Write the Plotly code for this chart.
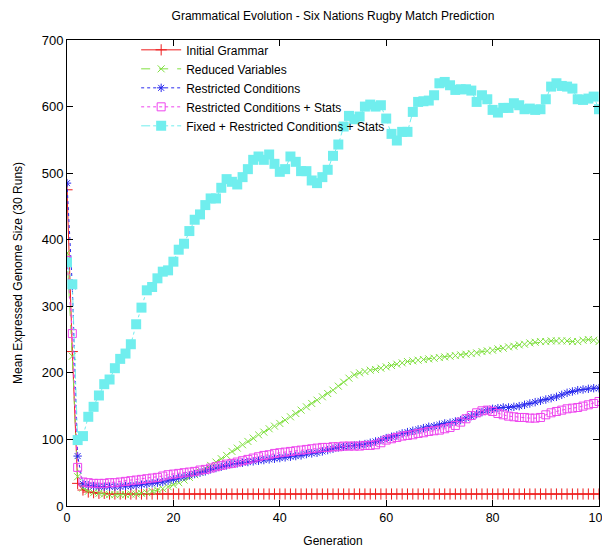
import plotly.graph_objects as go

generations = list(range(0, 101))

initial_grammar = [475, 232, 34, 24, 21, 20, 19, 19, 18, 18,
                   18, 18, 18, 18, 18, 18, 18, 18, 18, 18,
                   18, 18, 18, 18, 18, 18, 18, 18, 18, 18,
                   18, 18, 18, 18, 18, 18, 18, 18, 18, 18,
                   18, 18, 18, 18, 18, 18, 18, 18, 18, 18,
                   18, 18, 18, 18, 18, 18, 18, 18, 18, 18,
                   18, 18, 18, 18, 18, 18, 18, 18, 18, 18,
                   18, 18, 18, 18, 18, 18, 18, 18, 18, 18,
                   18, 18, 18, 18, 18, 18, 18, 18, 18, 18,
                   18, 18, 18, 18, 18, 18, 18, 18, 18, 18, 18]

reduced_variables = [380, 225, 44, 27, 22, 20, 19, 18, 17, 17,
                     17, 17, 18, 18, 19, 20, 22, 24, 26, 29,
                     32, 35, 39, 43, 47, 51, 56, 61, 66, 71,
                     76, 82, 87, 92, 97, 102, 107, 111, 116, 120,
                     124, 129, 134, 139, 144, 149, 154, 159, 164, 169,
                     174, 180, 186, 192, 197, 200, 202, 204, 205, 207,
                     209, 211, 213, 215, 217, 218, 219, 220, 221, 222,
                     223, 224, 225, 226, 227, 228, 229, 230, 232, 233,
                     234, 236, 237, 239, 240, 242, 243, 245, 246, 247,
                     247, 248, 248, 248, 248, 247, 247, 249, 250, 249, 247]

restricted_conditions = [485, 330, 75, 33, 31, 30, 29, 29, 29, 29,
                         29, 30, 30, 31, 32, 33, 34, 35, 36, 38,
                         40, 42, 44, 46, 48, 50, 52, 55, 57, 59,
                         61, 63, 64, 65, 66, 67, 68, 69, 70, 71,
                         72, 73, 74, 75, 76, 78, 79, 80, 82, 84,
                         86, 88, 89, 90, 91, 92, 93, 95, 97, 99,
                         102, 104, 106, 109, 111, 113, 115, 117, 119, 120,
                         122, 124, 125, 127, 129, 132, 135, 138, 141, 144,
                         146, 147, 148, 148, 149, 150, 152, 154, 156, 158,
                         160, 162, 164, 167, 170, 172, 174, 175, 176, 177, 177]

restricted_stats = [369, 259, 58, 36, 35, 34, 34, 34, 35, 35,
                    36, 37, 38, 39, 40, 41, 42, 43, 45, 47,
                    48, 49, 50, 51, 52, 54, 55, 57, 59, 61,
                    63, 64, 66, 68, 70, 72, 74, 76, 77, 79,
                    80, 81, 82, 83, 84, 85, 86, 87, 88, 88,
                    89, 89, 90, 90, 90, 90, 91, 91, 92, 95,
                    99, 101, 103, 105, 106, 107, 109, 110, 112, 113,
                    114, 116, 118, 121, 126, 131, 136, 140, 143, 144,
                    142, 139, 137, 135, 134, 133, 133, 132, 132, 133,
                    137, 140, 142, 144, 146, 147, 148, 150, 152, 154, 157]

fixed_restricted_stats = [366, 333, 99, 105, 134, 149, 166, 183, 190, 207,
                          221, 229, 243, 273, 298, 324, 329, 342, 352, 354,
                          367, 385, 394, 413, 430, 438, 452, 462, 462, 478,
                          491, 487, 483, 494, 506, 520, 525, 520, 528, 514,
                          502, 506, 525, 517, 503, 503, 489, 485, 494, 505,
                          526, 543, 570, 586, 581, 585, 600, 603, 600, 602,
                          582, 559, 549, 562, 562, 592, 607, 608, 609, 617,
                          635, 637, 632, 625, 626, 626, 624, 607, 617, 611,
                          595, 591, 598, 598, 605, 602, 596, 597, 595, 596,
                          611, 630, 635, 631, 630, 627, 611, 610, 612, 615, 596]

series_names = ["Initial Grammar", "Reduced Variables", "Restricted Conditions",
                "Restricted Conditions + Stats", "Fixed + Restricted Conditions + Stats"]
x_ticks = [0, 20, 40, 60, 80, 100]
y_ticks = [0, 100, 200, 300, 400, 500, 600, 700]

FONT = "Liberation Sans, Arial, sans-serif"

styles = [
    dict(color="#ee1c1c", dash="solid", symbol="cross-thin-open", size=8),
    dict(color="#80e040", dash="dash", symbol="x-thin-open", size=7),
    dict(color="#2a2aee", dash="dot", symbol="asterisk-open", size=7),
    dict(color="#ee44ee", dash="dot", symbol="square-open", size=8),
    dict(color="#70eeee", dash="dashdot", symbol="square", size=10),
]

data = [initial_grammar, reduced_variables, restricted_conditions,
        restricted_stats, fixed_restricted_stats]

fig = go.Figure()
for name, ys, st in zip(series_names, data, styles):
    filled = st["symbol"] == "square"
    fig.add_trace(go.Scatter(
        x=generations, y=ys, name=name, mode="lines+markers",
        line=dict(color=st["color"], width=1, dash=st["dash"]),
        marker=dict(symbol=st["symbol"], size=st["size"], color=st["color"],
                    line=dict(color=st["color"], width=0 if filled else 1)),
    ))

W, H = 602, 540
fig.update_layout(
    width=W, height=H,
    margin=dict(l=59, r=11, t=32, b=42, autoexpand=False),
    paper_bgcolor="white", plot_bgcolor="white",
    font=dict(family=FONT, size=12, color="black"),
    title=dict(text="Grammatical Evolution - Six Nations Rugby Match Prediction",
               x=0.5, xref="paper", xanchor="center", y=1 - 8 / H,
               yref="container", yanchor="middle", automargin=False,
               font=dict(family=FONT, size=12, color="black")),
    showlegend=True,
    legend=dict(x=0.13, y=1.01, xanchor="left", yanchor="top",
                bgcolor="rgba(0,0,0,0)", borderwidth=0,
                font=dict(family=FONT, size=12, color="black"),
                itemwidth=40, tracegroupgap=0),
)
fig.update_xaxes(
    range=[0, 100], tickvals=x_ticks, ticktext=[str(v) for v in x_ticks],
    ticks="inside", ticklen=6, tickcolor="black", showline=True, linecolor="black",
    linewidth=1, mirror="ticks", showgrid=False, zeroline=False, automargin=False,
    ticklabeloverflow="allow",
    title=dict(text="Generation", standoff=15, font=dict(family=FONT, size=12)),
    tickfont=dict(family=FONT, size=12.5),
)
fig.update_yaxes(
    range=[0, 700], tickvals=y_ticks, ticktext=[str(v) for v in y_ticks],
    ticks="inside", ticklen=6, tickcolor="black", showline=True, linecolor="black",
    linewidth=1, mirror="ticks", showgrid=False, zeroline=False, automargin=False,
    ticklabeloverflow="allow",
    title=dict(text="Mean Expressed Genome Size (30 Runs)", standoff=16,
               font=dict(family=FONT, size=12)),
    tickfont=dict(family=FONT, size=13),
)

fig.write_html("out.html")
